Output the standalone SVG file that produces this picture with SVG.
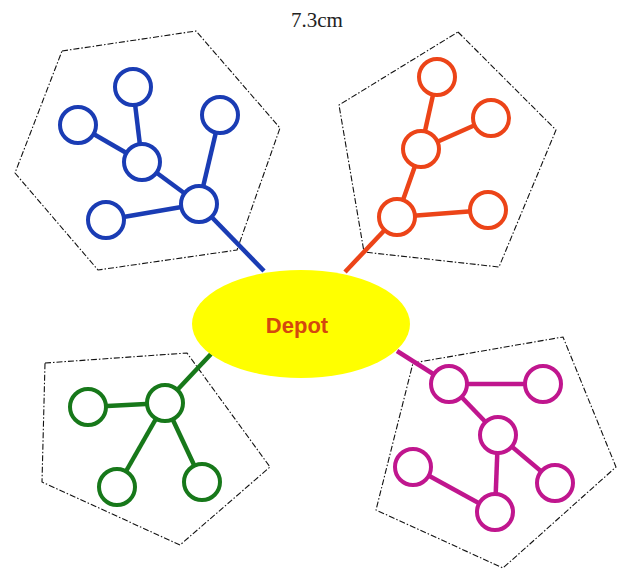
<svg xmlns="http://www.w3.org/2000/svg" width="622" height="572" viewBox="0 0 622 572">
<style>
.zone{fill:none;stroke:#111;stroke-width:1.1;stroke-dasharray:6 2 1.5 2}
.n{fill:#fff;stroke-width:4}
.e{stroke-width:4.5;stroke-linecap:butt}
.b{stroke:#1a3cb4}.o{stroke:#ec4418}.g{stroke:#17781a}.m{stroke:#c0168e}
.title{font-family:"Liberation Serif","Times New Roman",serif;font-size:21px;fill:#222}
.lbl{font-family:"Liberation Sans",Arial,sans-serif;font-weight:bold;font-size:22px;fill:#d4480e}
</style>
<rect width="622" height="572" fill="#fff"/>
<text class="title" x="317" y="27" text-anchor="middle">7.3cm</text>
<g id="zones">
<polygon class="zone" points="62,51 196,31 280,128 237,250 98,270 15,173"/>
<polygon class="zone" points="458,32 556,130 499,267 364,252 339,105"/>
<polygon class="zone" points="45,363 187,353 270,467 180,545 42,482"/>
<polygon class="zone" points="413,363 563,337 616,467 503,568 376,510"/>
</g>
<g id="connectors">
<line class="e b" x1="133" y1="87" x2="142" y2="162"/>
<line class="e b" x1="78" y1="125" x2="142" y2="162"/>
<line class="e b" x1="142" y1="162" x2="199" y2="204"/>
<line class="e b" x1="220" y1="115" x2="199" y2="204"/>
<line class="e b" x1="106" y1="220" x2="199" y2="204"/>
<line class="e b" x1="199" y1="204" x2="264" y2="271"/>
<line class="e o" x1="437" y1="77" x2="421" y2="149"/>
<line class="e o" x1="491" y1="118" x2="421" y2="149"/>
<line class="e o" x1="421" y1="149" x2="397" y2="217"/>
<line class="e o" x1="488" y1="210" x2="397" y2="217"/>
<line class="e o" x1="397" y1="217" x2="345" y2="272"/>
<line class="e g" x1="88" y1="407" x2="165" y2="403"/>
<line class="e g" x1="117" y1="487" x2="165" y2="403"/>
<line class="e g" x1="202" y1="482" x2="165" y2="403"/>
<line class="e g" x1="165" y1="403" x2="211" y2="354"/>
<line class="e m" x1="397" y1="351" x2="449" y2="384"/>
<line class="e m" x1="449" y1="384" x2="543" y2="384"/>
<line class="e m" x1="449" y1="384" x2="498" y2="435"/>
<line class="e m" x1="498" y1="435" x2="555" y2="483"/>
<line class="e m" x1="498" y1="435" x2="495" y2="512"/>
<line class="e m" x1="495" y1="512" x2="413" y2="467"/>
</g>
<g id="depot">
<ellipse cx="301" cy="324" rx="109" ry="54" fill="#ffff00"/>
<text class="lbl" x="297" y="333" text-anchor="middle">Depot</text>
</g>
<g id="b1"><circle class="n b" cx="133" cy="87" r="18"/></g>
<g id="b2"><circle class="n b" cx="78" cy="125" r="18"/></g>
<g id="b3"><circle class="n b" cx="142" cy="162" r="18"/></g>
<g id="b4"><circle class="n b" cx="220" cy="115" r="18"/></g>
<g id="b5"><circle class="n b" cx="199" cy="204" r="18"/></g>
<g id="b6"><circle class="n b" cx="106" cy="220" r="18"/></g>
<g id="o1"><circle class="n o" cx="437" cy="77" r="18"/></g>
<g id="o2"><circle class="n o" cx="491" cy="118" r="18"/></g>
<g id="o3"><circle class="n o" cx="421" cy="149" r="18"/></g>
<g id="o4"><circle class="n o" cx="488" cy="210" r="18"/></g>
<g id="o5"><circle class="n o" cx="397" cy="217" r="18"/></g>
<g id="g1"><circle class="n g" cx="88" cy="407" r="18"/></g>
<g id="g2"><circle class="n g" cx="165" cy="403" r="18"/></g>
<g id="g3"><circle class="n g" cx="117" cy="487" r="18"/></g>
<g id="g4"><circle class="n g" cx="202" cy="482" r="18"/></g>
<g id="m1"><circle class="n m" cx="449" cy="384" r="18"/></g>
<g id="m2"><circle class="n m" cx="543" cy="384" r="18"/></g>
<g id="m3"><circle class="n m" cx="498" cy="435" r="18"/></g>
<g id="m4"><circle class="n m" cx="555" cy="483" r="18"/></g>
<g id="m5"><circle class="n m" cx="413" cy="467" r="18"/></g>
<g id="m6"><circle class="n m" cx="495" cy="512" r="18"/></g>
</svg>
